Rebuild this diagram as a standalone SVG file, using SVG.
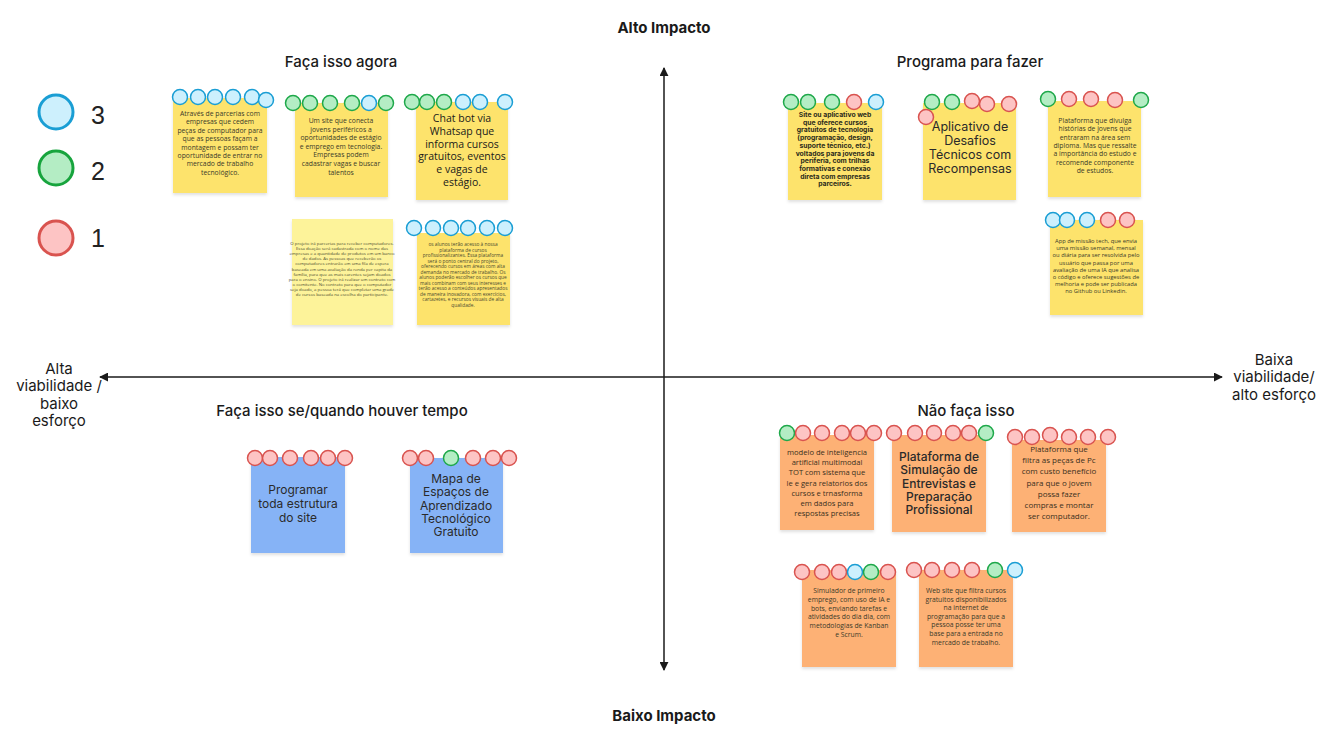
<svg xmlns="http://www.w3.org/2000/svg" width="1327" height="753" viewBox="0 0 1327 753">
<defs>
<filter id="sh" x="-10%" y="-10%" width="130%" height="130%"><feDropShadow dx="0" dy="2" stdDeviation="1.5" flood-color="#000" flood-opacity="0.12"/></filter>
<marker id="ah" viewBox="0 0 10 10" refX="9" refY="5" markerWidth="9" markerHeight="9" orient="auto-start-reverse" markerUnits="userSpaceOnUse"><path d="M0,0 L10,5 L0,10 z" fill="#1a1a1a"/></marker>
</defs>
<style>
text{font-family:Inter,"Open Sans","Liberation Sans",sans-serif;fill:#1a1a1a}
.title{font-size:15px;font-weight:500;text-anchor:middle}
.axl{font-size:15px;font-weight:700;text-anchor:middle}
.side{font-size:15px;text-anchor:middle}
.y{fill:#fde36c;filter:url(#sh)}
.py{fill:#fdf39a;filter:url(#sh)}
.bl{fill:#86b3f6;filter:url(#sh)}
.or{fill:#fdb174;filter:url(#sh)}
.b{fill:#cdf0fd;stroke:#1a9ed4;stroke-width:1.5}
.g{fill:#b4edc4;stroke:#1ea84a;stroke-width:1.5}
.r{fill:#fdc4c4;stroke:#d9534f;stroke-width:1.5}
.s{font-family:"Open Sans","Liberation Sans",sans-serif;font-size:6.8px;text-anchor:middle;fill:#3a3a2a}
.xs{font-family:"Open Sans","Liberation Sans",sans-serif;font-size:4.3px;text-anchor:middle;fill:#4a4a30}
.bd{font-family:Inter,"Liberation Sans",sans-serif;font-size:6.8px;font-weight:700;text-anchor:middle;fill:#2a2a1a}
.m{font-family:"Open Sans","Liberation Sans",sans-serif;font-size:8px;text-anchor:middle;fill:#3a3020}
.lg{font-family:Inter,"Liberation Sans",sans-serif;font-size:12.5px;text-anchor:middle;fill:#2a2a2a}
.cb{font-family:"Open Sans","Liberation Sans",sans-serif;font-size:10.5px;text-anchor:middle;fill:#1a1a1a}
.leg{font-family:"Liberation Sans",Arial,sans-serif;font-size:25px;fill:#222}
</style>
<rect width="1327" height="753" fill="#ffffff"/>

<g id="connectors">
<line x1="664" y1="68" x2="664" y2="670" stroke="#1a1a1a" stroke-width="1.5" marker-start="url(#ah)" marker-end="url(#ah)"/>
<line x1="100" y1="377" x2="1222" y2="377" stroke="#1a1a1a" stroke-width="1.5" marker-start="url(#ah)" marker-end="url(#ah)"/>
</g>

<g id="labels">
<text class="axl" x="664" y="33">Alto Impacto</text>
<text class="axl" x="664" y="721">Baixo Impacto</text>
<text class="side" x="59" y="374">Alta</text>
<text class="side" x="59" y="391">viabilidade /</text>
<text class="side" x="59" y="409">baixo</text>
<text class="side" x="59" y="426">esforço</text>
<text class="side" x="1274" y="365">Baixa</text>
<text class="side" x="1274" y="382">viabilidade/</text>
<text class="side" x="1274" y="400">alto esforço</text>
<text class="title" x="341" y="67">Faça isso agora</text>
<text class="title" x="970" y="67">Programa para fazer</text>
<text class="title" x="342" y="416">Faça isso se/quando houver tempo</text>
<text class="title" x="966" y="416">Não faça isso</text>
</g>

<g id="legend">
<circle cx="56" cy="112" r="17" fill="#cdf0fd" stroke="#1a9ed4" stroke-width="3"/>
<text class="leg" x="91" y="124">3</text>
<circle cx="56" cy="168" r="17" fill="#b4edc4" stroke="#17a43d" stroke-width="3"/>
<text class="leg" x="91" y="180">2</text>
<circle cx="56" cy="238" r="17" fill="#fdc4c4" stroke="#d9534f" stroke-width="3"/>
<text class="leg" x="91" y="247">1</text>
</g>

<g id="n1">
<rect class="y" x="173" y="98" width="94" height="95"/>
<circle class="b" cx="180" cy="97" r="7.5"/><circle class="b" cx="198" cy="97" r="7.5"/><circle class="b" cx="215" cy="97" r="7.5"/><circle class="b" cx="233" cy="97" r="7.5"/><circle class="b" cx="252" cy="97" r="7.5"/><circle class="b" cx="266" cy="100" r="7.5"/>
<text class="s" x="220" y="116"><tspan x="220">Através de parcerias com</tspan><tspan x="220" dy="8.4">empresas que cedem</tspan><tspan x="220" dy="8.4">peças de computador para</tspan><tspan x="220" dy="8.4">que as pessoas façam a</tspan><tspan x="220" dy="8.4">montagem e possam ter</tspan><tspan x="220" dy="8.4">oportunidade de entrar no</tspan><tspan x="220" dy="8.4">mercado de trabalho</tspan><tspan x="220" dy="8.4">tecnológico.</tspan></text>
</g>

<g id="n2">
<rect class="y" x="295" y="103" width="93" height="94"/>
<circle class="g" cx="293" cy="103" r="7.5"/><circle class="g" cx="310" cy="103" r="7.5"/><circle class="g" cx="330" cy="103" r="7.5"/><circle class="g" cx="352" cy="103" r="7.5"/><circle class="b" cx="369" cy="103" r="7.5"/><circle class="g" cx="386" cy="103" r="7.5"/>
<text class="s" x="341" y="123"><tspan x="341">Um site que conecta</tspan><tspan x="341" dy="8.6">jovens periféricos a</tspan><tspan x="341" dy="8.6">oportunidades de estágio</tspan><tspan x="341" dy="8.6">e emprego em tecnologia.</tspan><tspan x="341" dy="8.6">Empresas podem</tspan><tspan x="341" dy="8.6">cadastrar vagas e buscar</tspan><tspan x="341" dy="8.6">talentos</tspan></text>
</g>

<g id="n3">
<rect class="y" x="416" y="102" width="92" height="98"/>
<circle class="g" cx="412" cy="102" r="7.5"/><circle class="g" cx="427" cy="102" r="7.5"/><circle class="g" cx="444" cy="102" r="7.5"/><circle class="b" cx="463" cy="102" r="7.5"/><circle class="b" cx="480" cy="102" r="7.5"/><circle class="b" cx="505" cy="102" r="7.5"/>
<text class="cb" x="462" y="122"><tspan x="462">Chat bot via</tspan><tspan x="462" dy="12.8">Whatsap que</tspan><tspan x="462" dy="12.8">informa cursos</tspan><tspan x="462" dy="12.8">gratuitos, eventos</tspan><tspan x="462" dy="12.8">e vagas de</tspan><tspan x="462" dy="12.8">estágio.</tspan></text>
</g>

<g id="n4">
<rect class="py" x="292" y="219" width="101" height="106"/>
<text class="xs" x="342" y="245"><tspan x="342">O projeto irá parcerias para receber computadores.</tspan><tspan x="342" dy="5.1">Essa doação será cadastrada com o nome das</tspan><tspan x="342" dy="5.1">empresas e a quantidade de produtos em um banco</tspan><tspan x="342" dy="5.1">de dados. As pessoas que receberão os</tspan><tspan x="342" dy="5.1">computadores entrarão em uma fila de espera</tspan><tspan x="342" dy="5.1">baseada em uma avaliação da renda per capita da</tspan><tspan x="342" dy="5.1">família, para que as mais carentes sejam doados</tspan><tspan x="342" dy="5.1">para o ensino. O projeto irá realizar um contrato com</tspan><tspan x="342" dy="5.1">o comitente. No contrato para que o computador</tspan><tspan x="342" dy="5.1">seja doado, a pessoa terá que completar uma grade</tspan><tspan x="342" dy="5.1">de cursos baseada na escolha do participante.</tspan></text>
</g>

<g id="n5">
<rect class="y" x="417" y="233" width="93" height="92"/>
<circle class="b" cx="414" cy="228" r="7.5"/><circle class="b" cx="433" cy="228" r="7.5"/><circle class="b" cx="451" cy="228" r="7.5"/><circle class="b" cx="468" cy="228" r="7.5"/><circle class="b" cx="487" cy="228" r="7.5"/><circle class="b" cx="505" cy="228" r="7.5"/>
<text class="xs" x="463" y="246" style="font-size:4.8px"><tspan x="463">os alunos terão acesso à nossa</tspan><tspan x="463" dy="5.5">plataforma de cursos</tspan><tspan x="463" dy="5.5">profissionalizantes. Essa plataforma</tspan><tspan x="463" dy="5.5">será o ponto central do projeto,</tspan><tspan x="463" dy="5.5">oferecendo cursos em áreas com alta</tspan><tspan x="463" dy="5.5">demanda no mercado de trabalho. Os</tspan><tspan x="463" dy="5.5">alunos poderão escolher os cursos que</tspan><tspan x="463" dy="5.5">mais combinam com seus interesses e</tspan><tspan x="463" dy="5.5">terão acesso a conteúdos apresentados</tspan><tspan x="463" dy="5.5">de maneira inovadora, com exercícios,</tspan><tspan x="463" dy="5.5">cartazetes, e recursos visuais de alta</tspan><tspan x="463" dy="5.5">qualidade.</tspan></text>
</g>

<g id="n6">
<rect class="y" x="788" y="103" width="94" height="97"/>
<circle class="g" cx="791" cy="102" r="7.5"/><circle class="g" cx="808" cy="102" r="7.5"/><circle class="g" cx="832" cy="102" r="7.5"/><circle class="r" cx="854" cy="102" r="7.5"/><circle class="b" cx="876" cy="102" r="7.5"/>
<text class="bd" x="835" y="117"><tspan x="835">Site ou aplicativo web</tspan><tspan x="835" dy="7.7">que oferece cursos</tspan><tspan x="835" dy="7.7">gratuitos de tecnologia</tspan><tspan x="835" dy="7.7">(programação, design,</tspan><tspan x="835" dy="7.7">suporte técnico, etc.)</tspan><tspan x="835" dy="7.7">voltados para jovens da</tspan><tspan x="835" dy="7.7">periferia, com trilhas</tspan><tspan x="835" dy="7.7">formativas e conexão</tspan><tspan x="835" dy="7.7">direta com empresas</tspan><tspan x="835" dy="7.7">parceiros.</tspan></text>
</g>

<g id="n7">
<rect class="y" x="923" y="103" width="93" height="97"/>
<circle class="g" cx="932" cy="102" r="7.5"/><circle class="g" cx="952" cy="102" r="7.5"/><circle class="r" cx="972" cy="101" r="7.5"/><circle class="r" cx="987" cy="104" r="7.5"/><circle class="r" cx="1009" cy="104" r="7.5"/><circle class="r" cx="926" cy="117" r="7.5"/>
<text class="lg" x="970" y="131"><tspan x="970">Aplicativo de</tspan><tspan x="970" dy="14">Desafios</tspan><tspan x="970" dy="14">Técnicos com</tspan><tspan x="970" dy="14">Recompensas</tspan></text>
</g>

<g id="n8">
<rect class="y" x="1048" y="101" width="93" height="96"/>
<circle class="g" cx="1048" cy="99" r="7.5"/><circle class="r" cx="1069" cy="99" r="7.5"/><circle class="r" cx="1091" cy="99" r="7.5"/><circle class="r" cx="1115" cy="100" r="7.5"/><circle class="g" cx="1141" cy="100" r="7.5"/>
<text class="s" x="1095" y="123"><tspan x="1095">Plataforma que divulga</tspan><tspan x="1095" dy="8.3">histórias de jovens que</tspan><tspan x="1095" dy="8.3">entraram na área sem</tspan><tspan x="1095" dy="8.3">diploma. Mas que ressalte</tspan><tspan x="1095" dy="8.3">a importância do estudo e</tspan><tspan x="1095" dy="8.3">recomende componente</tspan><tspan x="1095" dy="8.3">de estudos.</tspan></text>
</g>

<g id="n9">
<rect class="y" x="1050" y="220" width="93" height="95"/>
<circle class="b" cx="1053" cy="220" r="7.5"/><circle class="b" cx="1067" cy="220" r="7.5"/><circle class="b" cx="1087" cy="220" r="7.5"/><circle class="r" cx="1108" cy="220" r="7.5"/><circle class="r" cx="1127" cy="220" r="7.5"/>
<text class="s" x="1096" y="243" style="font-size:5.8px"><tspan x="1096">App de missão tech, que envia</tspan><tspan x="1096" dy="7.2">uma missão semanal, mensal</tspan><tspan x="1096" dy="7.2">ou diária para ser resolvida pelo</tspan><tspan x="1096" dy="7.2">usuário que passa por uma</tspan><tspan x="1096" dy="7.2">avaliação de uma IA que analisa</tspan><tspan x="1096" dy="7.2">o código e oferece sugestões de</tspan><tspan x="1096" dy="7.2">melhoria e pode ser publicada</tspan><tspan x="1096" dy="7.2">no Github ou Linkedin.</tspan></text>
</g>

<g id="n10">
<rect class="bl" x="251" y="457" width="94" height="96"/>
<circle class="r" cx="255" cy="458" r="7.5"/><circle class="r" cx="270" cy="458" r="7.5"/><circle class="r" cx="290" cy="458" r="7.5"/><circle class="r" cx="311" cy="458" r="7.5"/><circle class="r" cx="328" cy="458" r="7.5"/><circle class="r" cx="345" cy="458" r="7.5"/>
<text class="lg" x="298" y="494" style="font-size:12px"><tspan x="298">Programar</tspan><tspan x="298" dy="13.8">toda estrutura</tspan><tspan x="298" dy="13.8">do site</tspan></text>
</g>

<g id="n11">
<rect class="bl" x="410" y="458" width="93" height="95"/>
<circle class="r" cx="410" cy="458" r="7.5"/><circle class="r" cx="426" cy="458" r="7.5"/><circle class="g" cx="451" cy="458" r="7.5"/><circle class="r" cx="473" cy="458" r="7.5"/><circle class="r" cx="493" cy="458" r="7.5"/><circle class="r" cx="509" cy="458" r="7.5"/>
<text class="lg" x="456" y="483" style="font-size:12px"><tspan x="456">Mapa de</tspan><tspan x="456" dy="13.3">Espaços de</tspan><tspan x="456" dy="13.3">Aprendizado</tspan><tspan x="456" dy="13.3">Tecnológico</tspan><tspan x="456" dy="13.3">Gratuito</tspan></text>
</g>

<g id="n12">
<rect class="or" x="780" y="435" width="94" height="95"/>
<circle class="g" cx="787" cy="433" r="7.5"/><circle class="r" cx="803" cy="433" r="7.5"/><circle class="r" cx="822" cy="433" r="7.5"/><circle class="r" cx="842" cy="433" r="7.5"/><circle class="r" cx="858" cy="433" r="7.5"/><circle class="r" cx="874" cy="433" r="7.5"/>
<text class="m" x="827" y="455" style="font-size:7.6px"><tspan x="827">modelo de inteligencia</tspan><tspan x="827" dy="10.2">artificial multimodal</tspan><tspan x="827" dy="10.2">TOT com sistema que</tspan><tspan x="827" dy="10.2">le e gera relatorios dos</tspan><tspan x="827" dy="10.2">cursos e trnasforma</tspan><tspan x="827" dy="10.2">em dados para</tspan><tspan x="827" dy="10.2">respostas precisas</tspan></text>
</g>

<g id="n13">
<rect class="or" x="892" y="435" width="94" height="97"/>
<circle class="r" cx="894" cy="433" r="7.5"/><circle class="r" cx="915" cy="433" r="7.5"/><circle class="r" cx="934" cy="433" r="7.5"/><circle class="r" cx="953" cy="433" r="7.5"/><circle class="r" cx="969" cy="433" r="7.5"/><circle class="g" cx="986" cy="433" r="7.5"/>
<text class="lg" x="939" y="461" style="font-size:12px;font-weight:500"><tspan x="939">Plataforma de</tspan><tspan x="939" dy="13.3">Simulação de</tspan><tspan x="939" dy="13.3">Entrevistas e</tspan><tspan x="939" dy="13.3">Preparação</tspan><tspan x="939" dy="13.3">Profissional</tspan></text>
</g>

<g id="n14">
<rect class="or" x="1012" y="440" width="94" height="92"/>
<circle class="r" cx="1015" cy="437" r="7.5"/><circle class="r" cx="1032" cy="437" r="7.5"/><circle class="r" cx="1050" cy="435" r="7.5"/><circle class="r" cx="1069" cy="437" r="7.5"/><circle class="r" cx="1088" cy="437" r="7.5"/><circle class="r" cx="1108" cy="437" r="7.5"/>
<text class="m" x="1059" y="452" style="font-size:8px"><tspan x="1059">Plataforma que</tspan><tspan x="1059" dy="11.2">filtra as peças de Pc</tspan><tspan x="1059" dy="11.2">com custo benefício</tspan><tspan x="1059" dy="11.2">para que o jovem</tspan><tspan x="1059" dy="11.2">possa fazer</tspan><tspan x="1059" dy="11.2">compras e montar</tspan><tspan x="1059" dy="11.2">ser computador.</tspan></text>
</g>

<g id="n15">
<rect class="or" x="802" y="570" width="94" height="97"/>
<circle class="r" cx="802" cy="572" r="7.5"/><circle class="r" cx="822" cy="572" r="7.5"/><circle class="r" cx="839" cy="572" r="7.5"/><circle class="b" cx="855" cy="572" r="7.5"/><circle class="g" cx="871" cy="572" r="7.5"/><circle class="r" cx="888" cy="572" r="7.5"/>
<text class="s" x="849" y="593"><tspan x="849">Simulador de primeiro</tspan><tspan x="849" dy="8.8">emprego, com uso de IA e</tspan><tspan x="849" dy="8.8">bots, enviando tarefas e</tspan><tspan x="849" dy="8.8">atividades do dia dia, com</tspan><tspan x="849" dy="8.8">metodologias de Kanban</tspan><tspan x="849" dy="8.8">e Scrum.</tspan></text>
</g>

<g id="n16">
<rect class="or" x="919" y="570" width="94" height="97"/>
<circle class="r" cx="914" cy="570" r="7.5"/><circle class="r" cx="932" cy="570" r="7.5"/><circle class="r" cx="952" cy="570" r="7.5"/><circle class="r" cx="972" cy="570" r="7.5"/><circle class="g" cx="995" cy="570" r="7.5"/><circle class="b" cx="1015" cy="570" r="7.5"/>
<text class="s" x="966" y="593"><tspan x="966">Web site que filtra cursos</tspan><tspan x="966" dy="8.6">gratuitos disponibilizados</tspan><tspan x="966" dy="8.6">na internet de</tspan><tspan x="966" dy="8.6">programação para que a</tspan><tspan x="966" dy="8.6">pessoa posse ter uma</tspan><tspan x="966" dy="8.6">base para a entrada no</tspan><tspan x="966" dy="8.6">mercado de trabalho.</tspan></text>
</g>
</svg>
